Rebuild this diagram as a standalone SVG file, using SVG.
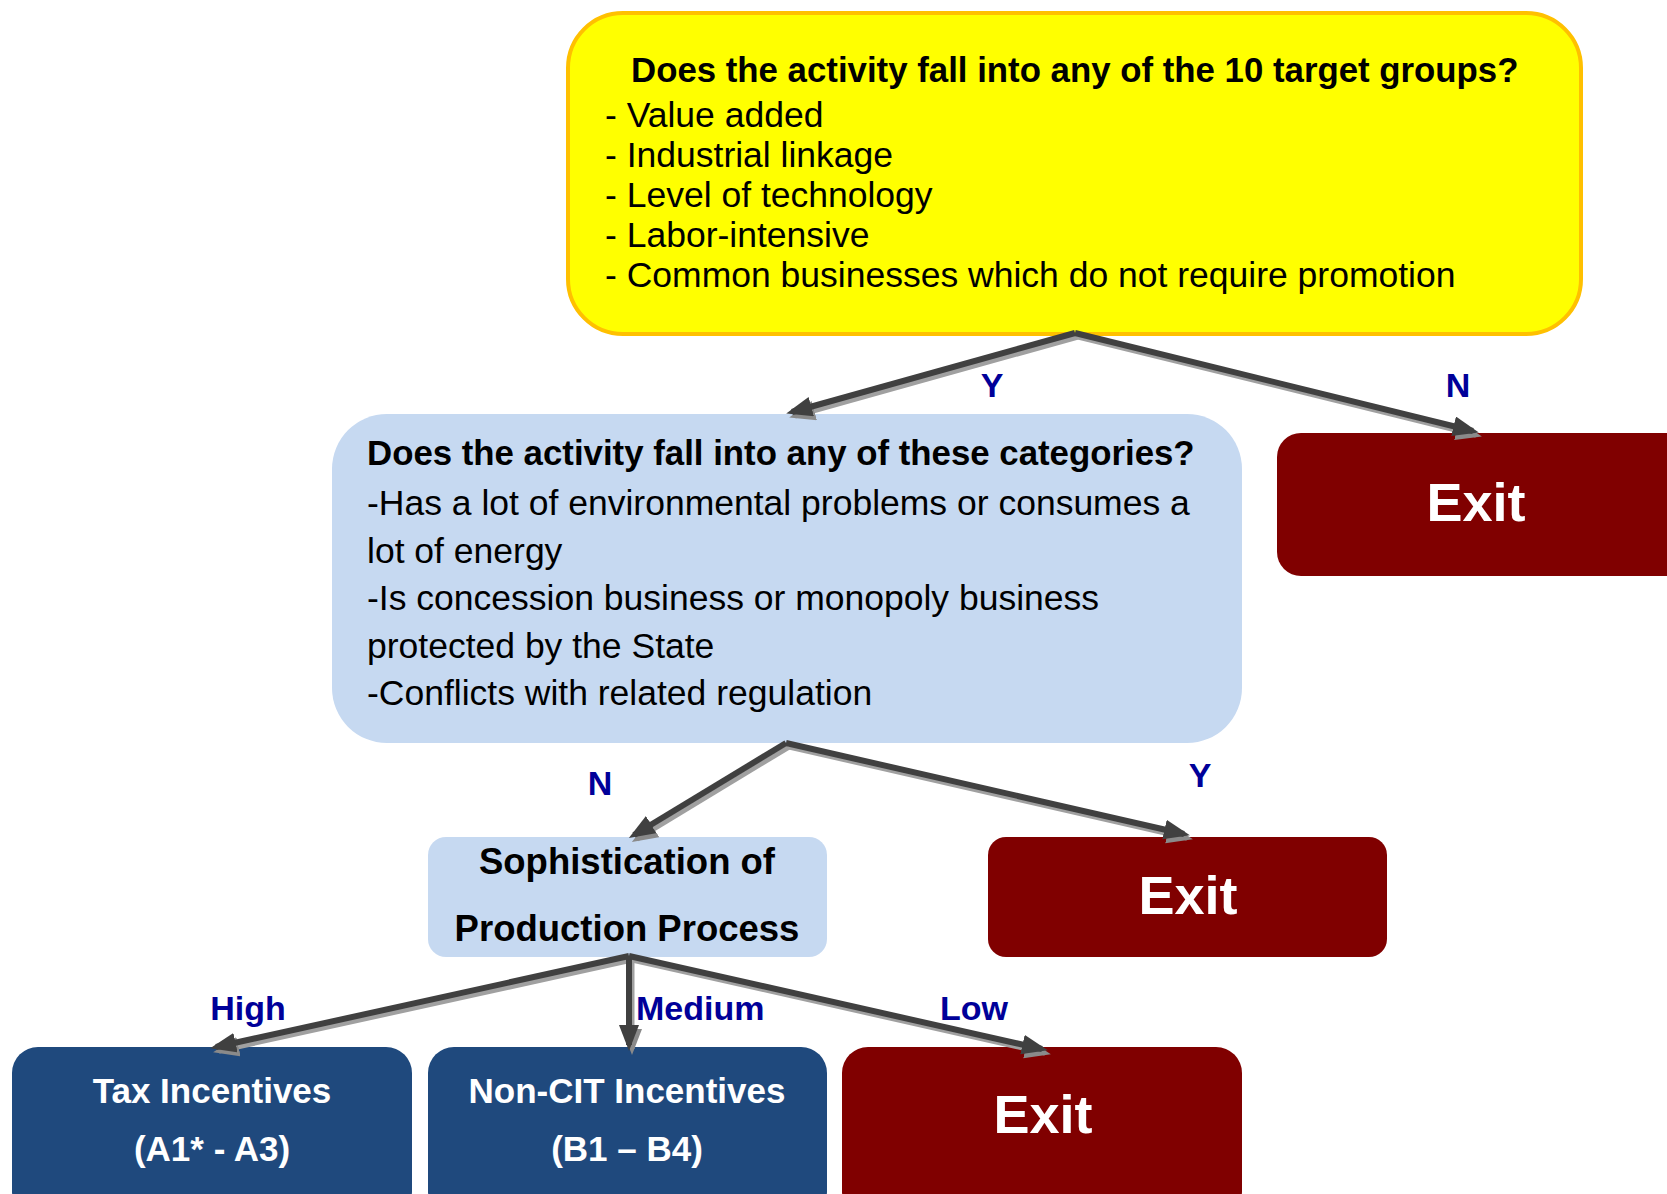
<svg xmlns="http://www.w3.org/2000/svg" width="1667" height="1194" viewBox="0 0 1667 1194">
<style>
text{font-family:"Liberation Sans",Arial,sans-serif;}
.body{font-size:35.5px;fill:#000;}
.body.b{font-weight:bold;font-size:34.8px;}
.lbl{font-size:34px;font-weight:bold;fill:#000099;}
.exit{font-size:54px;font-weight:bold;fill:#fff;text-anchor:middle;}
.wt{font-size:35px;font-weight:bold;fill:#fff;text-anchor:middle;}
.dk{stroke:#404040;stroke-width:6;fill:none;}
.lt{stroke:#a0a0a0;stroke-width:5;fill:none;}
</style>
<defs>
<marker id="ad" markerUnits="userSpaceOnUse" markerWidth="28" markerHeight="22" refX="20" refY="10" orient="auto">
<path d="M0,0 L26,10 L0,20 z" fill="#404040"/>
</marker>
<marker id="al" markerUnits="userSpaceOnUse" markerWidth="28" markerHeight="22" refX="20" refY="10" orient="auto">
<path d="M0,0 L26,10 L0,20 z" fill="#8a8a8a"/>
</marker>
</defs>
<rect width="1667" height="1194" fill="#fff"/>

<g id="q1">
<rect x="568" y="13" width="1013" height="321" rx="55" fill="#FFFF00" stroke="#FFC000" stroke-width="4"/>
<text class="body b" x="631" y="82">Does the activity fall into any of the 10 target groups?</text>
<text class="body" x="605" y="127">- Value added</text>
<text class="body" x="605" y="167">- Industrial linkage</text>
<text class="body" x="605" y="207">- Level of technology</text>
<text class="body" x="605" y="247">- Labor-intensive</text>
<text class="body" x="605" y="287">- Common businesses which do not require promotion</text>
</g>

<g id="q2">
<rect x="332" y="414" width="910" height="329" rx="55" fill="#C6D9F1"/>
<text class="body b" x="367" y="465">Does the activity fall into any of these categories?</text>
<text class="body" x="367" y="515">-Has a lot of environmental problems or consumes a</text>
<text class="body" x="367" y="563">lot of energy</text>
<text class="body" x="367" y="610">-Is concession business or monopoly business</text>
<text class="body" x="367" y="658">protected by the State</text>
<text class="body" x="367" y="705">-Conflicts with related regulation</text>
</g>

<g id="exit1">
<rect x="1277" y="433" width="420" height="143" rx="24" fill="#800000"/>
<text class="exit" x="1476" y="521">Exit</text>
</g>

<g id="soph">
<rect x="428" y="837" width="399" height="120" rx="18" fill="#C6D9F1"/>
<text x="627" y="874" font-size="36.5" font-weight="bold" text-anchor="middle">Sophistication of</text>
<text x="627" y="941" font-size="36.5" font-weight="bold" text-anchor="middle">Production Process</text>
</g>

<g id="exit2">
<rect x="988" y="837" width="399" height="120" rx="18" fill="#800000"/>
<text class="exit" x="1188" y="914">Exit</text>
</g>

<g id="tax">
<rect x="12" y="1047" width="400" height="170" rx="26" fill="#1F497D"/>
<text class="wt" x="212" y="1103">Tax Incentives</text>
<text class="wt" x="212" y="1161">(A1* - A3)</text>
</g>

<g id="noncit">
<rect x="428" y="1047" width="399" height="170" rx="26" fill="#1F497D"/>
<text class="wt" x="627" y="1103">Non-CIT Incentives</text>
<text class="wt" x="627" y="1161">(B1 – B4)</text>
</g>

<g id="exit3">
<rect x="842" y="1047" width="400" height="170" rx="26" fill="#800000"/>
<text class="exit" x="1043" y="1133">Exit</text>
</g>

<g id="connectors">
<g transform="translate(3,4)">
<line class="lt" x1="1075" y1="333" x2="792" y2="412" marker-end="url(#al)"/>
<line class="lt" x1="1075" y1="333" x2="1473" y2="431" marker-end="url(#al)"/>
<line class="lt" x1="786" y1="743" x2="634" y2="835" marker-end="url(#al)"/>
<line class="lt" x1="786" y1="743" x2="1184" y2="834" marker-end="url(#al)"/>
<line class="lt" x1="629" y1="956" x2="216" y2="1047" marker-end="url(#al)"/>
<line class="lt" x1="629" y1="956" x2="629" y2="1045" marker-end="url(#al)"/>
<line class="lt" x1="629" y1="956" x2="1042" y2="1049" marker-end="url(#al)"/>
</g>
<line class="dk" x1="1075" y1="333" x2="792" y2="412" marker-end="url(#ad)"/>
<line class="dk" x1="1075" y1="333" x2="1473" y2="431" marker-end="url(#ad)"/>
<line class="dk" x1="786" y1="743" x2="634" y2="835" marker-end="url(#ad)"/>
<line class="dk" x1="786" y1="743" x2="1184" y2="834" marker-end="url(#ad)"/>
<line class="dk" x1="629" y1="956" x2="216" y2="1047" marker-end="url(#ad)"/>
<line class="dk" x1="629" y1="956" x2="629" y2="1045" marker-end="url(#ad)"/>
<line class="dk" x1="629" y1="956" x2="1042" y2="1049" marker-end="url(#ad)"/>
<text class="lbl" x="992" y="397" text-anchor="middle">Y</text>
<text class="lbl" x="1458" y="397" text-anchor="middle">N</text>
<text class="lbl" x="600" y="795" text-anchor="middle">N</text>
<text class="lbl" x="1200" y="787" text-anchor="middle">Y</text>
<text class="lbl" x="248" y="1020" text-anchor="middle">High</text>
<text class="lbl" x="636" y="1020">Medium</text>
<text class="lbl" x="974" y="1020" text-anchor="middle">Low</text>
</g>
</svg>
